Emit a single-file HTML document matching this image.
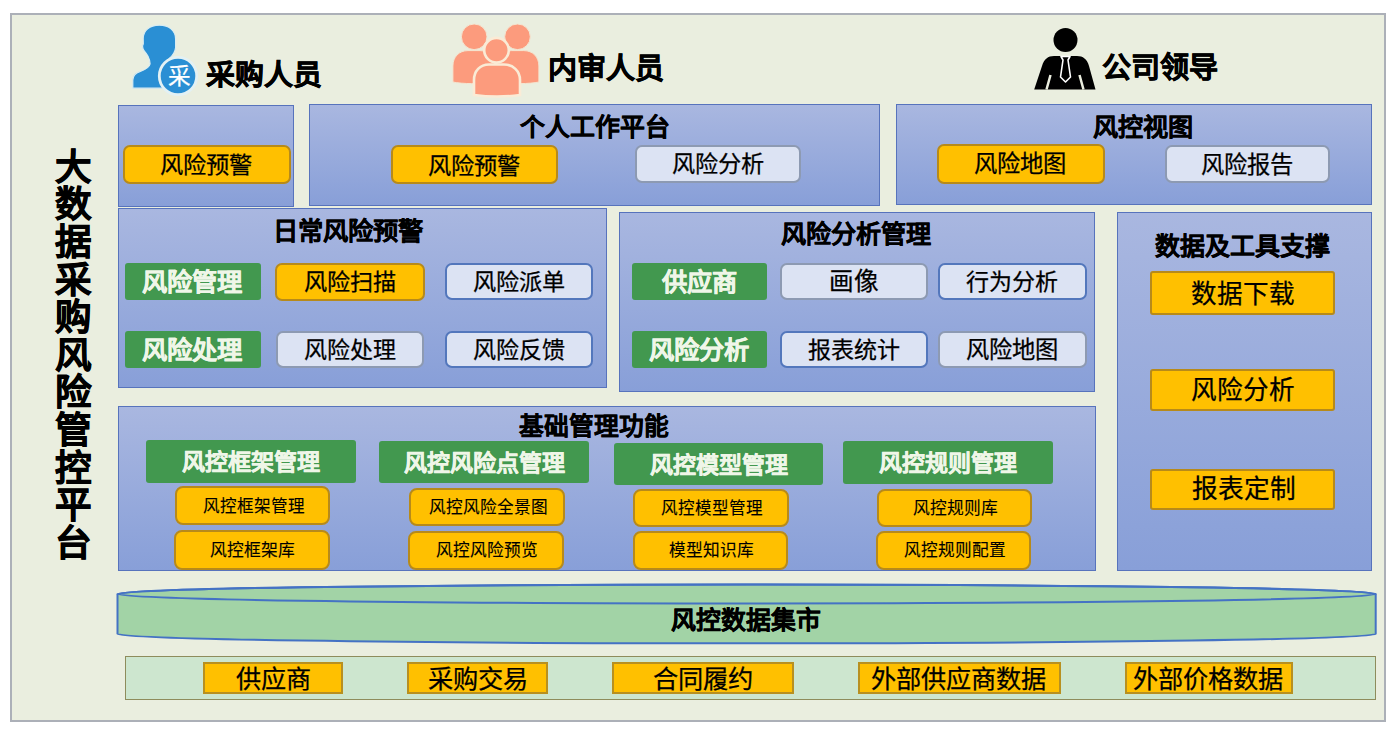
<!DOCTYPE html>
<html lang="zh-CN"><head><meta charset="utf-8"><style>
html,body{margin:0;padding:0;width:1397px;height:729px;overflow:hidden;background:#fff;font-family:'Liberation Sans', sans-serif;position:relative}
</style></head><body>
<div style="position:absolute;left:10px;top:13px;width:1376px;height:709px;box-sizing:border-box;background:#EAEEDF;border:2px solid #ACB0B8;"></div>
<svg width="1397" height="729" style="position:absolute;left:0;top:0">
<path d="M117.5 594 L117.5 634 A629 9.3 0 0 0 1375.7 634 L1375.7 594 A629 9.5 0 0 0 117.5 594 Z" fill="#A2D3A6" stroke="#4472C4" stroke-width="2"/>
<ellipse cx="746.6" cy="594" rx="629.1" ry="9.5" fill="none" stroke="#4472C4" stroke-width="2"/>
<!-- buyer icon -->
<path d="M132.8 88.2 L132.8 80 C133 75 135.5 73 139.8 71.6 C145 69.9 149.3 67.8 150.1 64 L149.6 60.5 C148.8 57 147.4 54.8 145.8 52.8 C144.6 51.6 143.4 50.5 142.9 48.5 C142.3 46.5 142.5 45 143.3 44 L143.2 38.5 C143.4 30.5 149.5 25.2 159.3 25.2 C169.5 25.2 175.6 31 175.6 39 L175.6 47.5 C175.2 52 172.8 55.5 169 58.8 L169.5 64 C173 67 177 69 181 72 L181 88.2 Z" fill="#2A8FD4" stroke="#D9ECF2" stroke-width="1.2"/>
<circle cx="178" cy="76" r="18.7" fill="#2A8FD4" stroke="#E3F1F4" stroke-width="2.8"/>
<!-- group icon -->
<g fill="#FC9B7D" stroke="#F4E6D2" stroke-width="1">
<circle cx="474.2" cy="36.8" r="12.8"/>
<circle cx="517.5" cy="36.8" r="12.8"/>
<path d="M452.9 82 L452.9 66 C452.9 57 459 50.6 468 50.6 L480 50.6 C489 50.6 495 57 495 66 L495 83 C480 84 462 84 452.9 82 Z"/>
<path d="M538.9 82 L538.9 66 C538.9 57 532.8 50.6 523.8 50.6 L511.8 50.6 C502.8 50.6 496.8 57 496.8 66 L496.8 83 C511.8 84 529.8 84 538.9 82 Z"/>
</g>
<g fill="#FC9B7D" stroke="#FAEBD6" stroke-width="2.6">
<circle cx="496.5" cy="50.2" r="12.3"/>
<path d="M474 95 L474 80 C474 71 480 64.5 489 64.5 L504 64.5 C513 64.5 520 71 520 80 L520 95 C505 97 489 97 474 95 Z"/>
</g>
<!-- leader icon -->
<circle cx="1065.5" cy="40.1" r="12" fill="#000"/>
<path d="M1034.2 89.5 L1042 66 C1044 59 1048 56 1054 56 L1077 56 C1083 56 1087 59 1089 66 L1095.5 89.5 Z" fill="#000"/>
<path d="M1050.5 75 L1046.5 89.5 M1079.5 75 L1083.5 89.5" stroke="#EBEEDF" stroke-width="2.5"/>
<path d="M1061 56.5 L1070 56.5 L1068 60 L1070.5 77 L1065.5 82 L1060.5 77 L1063 60 Z" fill="#000" stroke="#fff" stroke-width="1.6" stroke-linejoin="round"/>
</svg>
<div style="position:absolute;left:118px;top:105px;width:176px;height:102px;box-sizing:border-box;background:linear-gradient(#A9B7E0,#889FD8);border:1px solid #5773BC;"></div>
<div style="position:absolute;left:123px;top:145px;width:168px;height:39px;box-sizing:border-box;background:#FFC000;border:2px solid #B78A1A;border-radius:7px;"></div>
<span style="position:absolute;left:160.47px;top:154.48px;font-size:23.27px;line-height:23.27px;color:#000;-webkit-text-stroke:0.25px #000;white-space:nowrap">风险预警</span>
<div style="position:absolute;left:309px;top:104px;width:571px;height:102px;box-sizing:border-box;background:linear-gradient(#A9B7E0,#889FD8);border:1px solid #5773BC;"></div>
<span style="position:absolute;left:519.80px;top:114.79px;font-size:24.91px;line-height:24.91px;font-weight:bold;color:#000;-webkit-text-stroke:0.35px #000;white-space:nowrap">个人工作平台</span>
<div style="position:absolute;left:391px;top:145px;width:167px;height:39px;box-sizing:border-box;background:#FFC000;border:2px solid #B78A1A;border-radius:7px;"></div>
<span style="position:absolute;left:427.87px;top:154.78px;font-size:23.27px;line-height:23.27px;color:#000;-webkit-text-stroke:0.25px #000;white-space:nowrap">风险预警</span>
<div style="position:absolute;left:635px;top:145px;width:166px;height:38px;box-sizing:border-box;background:#DCE3F3;border:2px solid #8D9AB2;border-radius:7px;"></div>
<span style="position:absolute;left:671.77px;top:152.61px;font-size:23.16px;line-height:23.16px;color:#000;-webkit-text-stroke:0.25px #000;white-space:nowrap">风险分析</span>
<div style="position:absolute;left:896px;top:104px;width:476px;height:101px;box-sizing:border-box;background:linear-gradient(#A9B7E0,#889FD8);border:1px solid #5773BC;"></div>
<span style="position:absolute;left:1093.25px;top:115.26px;font-size:25.14px;line-height:25.14px;font-weight:bold;color:#000;-webkit-text-stroke:0.35px #000;white-space:nowrap">风控视图</span>
<div style="position:absolute;left:937px;top:144px;width:168px;height:40px;box-sizing:border-box;background:#FFC000;border:2px solid #B78A1A;border-radius:7px;"></div>
<span style="position:absolute;left:973.62px;top:153.35px;font-size:23.32px;line-height:23.32px;color:#000;-webkit-text-stroke:0.25px #000;white-space:nowrap">风险地图</span>
<div style="position:absolute;left:1165px;top:145px;width:165px;height:38px;box-sizing:border-box;background:#DCE3F3;border:2px solid #8D9AB2;border-radius:7px;"></div>
<span style="position:absolute;left:1200.87px;top:153.53px;font-size:23.33px;line-height:23.33px;color:#000;-webkit-text-stroke:0.25px #000;white-space:nowrap">风险报告</span>
<div style="position:absolute;left:118px;top:208px;width:489px;height:180px;box-sizing:border-box;background:linear-gradient(#A9B7E0,#889FD8);border:1px solid #5773BC;"></div>
<span style="position:absolute;left:272.96px;top:219.13px;font-size:25.26px;line-height:25.26px;font-weight:bold;color:#000;-webkit-text-stroke:0.35px #000;white-space:nowrap">日常风险预警</span>
<div style="position:absolute;left:125px;top:263px;width:136px;height:37px;box-sizing:border-box;background:#42984F;border-radius:3px;"></div>
<span style="position:absolute;left:142.49px;top:270.43px;font-size:25.25px;line-height:25.25px;font-weight:bold;color:#EFF6E8;-webkit-text-stroke:0.35px #EFF6E8;white-space:nowrap">风险管理</span>
<div style="position:absolute;left:275px;top:263px;width:150px;height:38px;box-sizing:border-box;background:#FFC000;border:2px solid #B78A1A;border-radius:7px;"></div>
<span style="position:absolute;left:303.82px;top:271.24px;font-size:23.15px;line-height:23.15px;color:#000;-webkit-text-stroke:0.25px #000;white-space:nowrap">风险扫描</span>
<div style="position:absolute;left:445px;top:263px;width:148px;height:37px;box-sizing:border-box;background:#DCE3F3;border:2px solid #5377BC;border-radius:7px;"></div>
<span style="position:absolute;left:472.82px;top:271.14px;font-size:23.15px;line-height:23.15px;color:#000;-webkit-text-stroke:0.25px #000;white-space:nowrap">风险派单</span>
<div style="position:absolute;left:125px;top:331px;width:136px;height:37px;box-sizing:border-box;background:#42984F;border-radius:3px;"></div>
<span style="position:absolute;left:142.49px;top:338.13px;font-size:25.25px;line-height:25.25px;font-weight:bold;color:#EFF6E8;-webkit-text-stroke:0.35px #EFF6E8;white-space:nowrap">风险处理</span>
<div style="position:absolute;left:276px;top:331px;width:148px;height:37px;box-sizing:border-box;background:#DCE3F3;border:2px solid #8D9AB2;border-radius:7px;"></div>
<span style="position:absolute;left:303.83px;top:339.29px;font-size:23.03px;line-height:23.03px;color:#000;-webkit-text-stroke:0.25px #000;white-space:nowrap">风险处理</span>
<div style="position:absolute;left:445px;top:331px;width:148px;height:37px;box-sizing:border-box;background:#DCE3F3;border:2px solid #5377BC;border-radius:7px;"></div>
<span style="position:absolute;left:472.83px;top:339.15px;font-size:23.09px;line-height:23.09px;color:#000;-webkit-text-stroke:0.25px #000;white-space:nowrap">风险反馈</span>
<div style="position:absolute;left:619px;top:212px;width:476px;height:180px;box-sizing:border-box;background:linear-gradient(#A9B7E0,#889FD8);border:1px solid #5773BC;"></div>
<span style="position:absolute;left:780.95px;top:221.81px;font-size:25.08px;line-height:25.08px;font-weight:bold;color:#000;-webkit-text-stroke:0.35px #000;white-space:nowrap">风险分析管理</span>
<div style="position:absolute;left:632px;top:263px;width:135px;height:37px;box-sizing:border-box;background:#42984F;border-radius:3px;"></div>
<span style="position:absolute;left:662.00px;top:270.42px;font-size:25.27px;line-height:25.27px;font-weight:bold;color:#EFF6E8;-webkit-text-stroke:0.35px #EFF6E8;white-space:nowrap">供应商</span>
<div style="position:absolute;left:780px;top:263px;width:148px;height:37px;box-sizing:border-box;background:#DCE3F3;border:2px solid #8D9AB2;border-radius:7px;"></div>
<span style="position:absolute;left:828.79px;top:269.94px;font-size:24.60px;line-height:24.60px;color:#000;-webkit-text-stroke:0.25px #000;white-space:nowrap">画像</span>
<div style="position:absolute;left:938px;top:263px;width:149px;height:37px;box-sizing:border-box;background:#DCE3F3;border:2px solid #5377BC;border-radius:7px;"></div>
<span style="position:absolute;left:966.06px;top:270.56px;font-size:23.03px;line-height:23.03px;color:#000;-webkit-text-stroke:0.25px #000;white-space:nowrap">行为分析</span>
<div style="position:absolute;left:632px;top:331px;width:135px;height:37px;box-sizing:border-box;background:#42984F;border-radius:3px;"></div>
<span style="position:absolute;left:648.99px;top:338.10px;font-size:25.32px;line-height:25.32px;font-weight:bold;color:#EFF6E8;-webkit-text-stroke:0.35px #EFF6E8;white-space:nowrap">风险分析</span>
<div style="position:absolute;left:780px;top:331px;width:148px;height:37px;box-sizing:border-box;background:#DCE3F3;border:2px solid #5377BC;border-radius:7px;"></div>
<span style="position:absolute;left:808.06px;top:339.18px;font-size:23.03px;line-height:23.03px;color:#000;-webkit-text-stroke:0.25px #000;white-space:nowrap">报表统计</span>
<div style="position:absolute;left:938px;top:331px;width:149px;height:37px;box-sizing:border-box;background:#DCE3F3;border:2px solid #8D9AB2;border-radius:7px;"></div>
<span style="position:absolute;left:965.82px;top:339.15px;font-size:23.32px;line-height:23.32px;color:#000;-webkit-text-stroke:0.25px #000;white-space:nowrap">风险地图</span>
<div style="position:absolute;left:1117px;top:212px;width:255px;height:359px;box-sizing:border-box;background:linear-gradient(#A9B7E0,#889FD8);border:1px solid #5773BC;"></div>
<span style="position:absolute;left:1155.05px;top:233.63px;font-size:24.99px;line-height:24.99px;font-weight:bold;color:#000;-webkit-text-stroke:0.35px #000;white-space:nowrap">数据及工具支撑</span>
<div style="position:absolute;left:1150px;top:271px;width:185px;height:44px;box-sizing:border-box;background:#FFC000;border:2px solid #B78A1A;border-radius:3px;"></div>
<span style="position:absolute;left:1191.33px;top:282.15px;font-size:25.59px;line-height:25.59px;color:#000;-webkit-text-stroke:0.25px #000;white-space:nowrap">数据下载</span>
<div style="position:absolute;left:1150px;top:369px;width:185px;height:42px;box-sizing:border-box;background:#FFC000;border:2px solid #B78A1A;border-radius:3px;"></div>
<span style="position:absolute;left:1191.33px;top:377.97px;font-size:25.59px;line-height:25.59px;color:#000;-webkit-text-stroke:0.25px #000;white-space:nowrap">风险分析</span>
<div style="position:absolute;left:1150px;top:469px;width:185px;height:41px;box-sizing:border-box;background:#FFC000;border:2px solid #B78A1A;border-radius:3px;"></div>
<span style="position:absolute;left:1191.58px;top:477.41px;font-size:25.72px;line-height:25.72px;color:#000;-webkit-text-stroke:0.25px #000;white-space:nowrap">报表定制</span>
<div style="position:absolute;left:118px;top:406px;width:978px;height:165px;box-sizing:border-box;background:linear-gradient(#A9B7E0,#889FD8);border:1px solid #5773BC;"></div>
<span style="position:absolute;left:518.50px;top:414.67px;font-size:24.74px;line-height:24.74px;font-weight:bold;color:#000;-webkit-text-stroke:0.35px #000;white-space:nowrap">基础管理功能</span>
<div style="position:absolute;left:146px;top:440px;width:210px;height:43px;box-sizing:border-box;background:#42984F;border-radius:3px;"></div>
<span style="position:absolute;left:181.94px;top:451.07px;font-size:23.02px;line-height:23.02px;font-weight:bold;color:#EFF6E8;-webkit-text-stroke:0.35px #EFF6E8;white-space:nowrap">风控框架管理</span>
<div style="position:absolute;left:175px;top:486px;width:155px;height:39px;box-sizing:border-box;background:#FFC000;border:2px solid #B78A1A;border-radius:8px;"></div>
<span style="position:absolute;left:202.69px;top:498.59px;font-size:16.58px;line-height:16.58px;color:#000;-webkit-text-stroke:0.12px #000;white-space:nowrap">风控框架管理</span>
<div style="position:absolute;left:174px;top:530px;width:156px;height:40px;box-sizing:border-box;background:#FFC000;border:2px solid #B78A1A;border-radius:8px;"></div>
<span style="position:absolute;left:210.17px;top:542.92px;font-size:16.77px;line-height:16.77px;color:#000;-webkit-text-stroke:0.12px #000;white-space:nowrap">风控框架库</span>
<div style="position:absolute;left:379px;top:441px;width:210px;height:42px;box-sizing:border-box;background:#42984F;border-radius:3px;"></div>
<span style="position:absolute;left:403.59px;top:451.70px;font-size:22.97px;line-height:22.97px;font-weight:bold;color:#EFF6E8;-webkit-text-stroke:0.35px #EFF6E8;white-space:nowrap">风控风险点管理</span>
<div style="position:absolute;left:409px;top:488px;width:156px;height:38px;box-sizing:border-box;background:#FFC000;border:2px solid #B78A1A;border-radius:8px;"></div>
<span style="position:absolute;left:429.00px;top:500.05px;font-size:16.67px;line-height:16.67px;color:#000;-webkit-text-stroke:0.12px #000;white-space:nowrap">风控风险全景图</span>
<div style="position:absolute;left:408px;top:531px;width:156px;height:39px;box-sizing:border-box;background:#FFC000;border:2px solid #B78A1A;border-radius:8px;"></div>
<span style="position:absolute;left:436.19px;top:543.47px;font-size:16.66px;line-height:16.66px;color:#000;-webkit-text-stroke:0.12px #000;white-space:nowrap">风控风险预览</span>
<div style="position:absolute;left:614px;top:443px;width:209px;height:42px;box-sizing:border-box;background:#42984F;border-radius:3px;"></div>
<span style="position:absolute;left:649.54px;top:453.58px;font-size:22.99px;line-height:22.99px;font-weight:bold;color:#EFF6E8;-webkit-text-stroke:0.35px #EFF6E8;white-space:nowrap">风控模型管理</span>
<div style="position:absolute;left:633px;top:489px;width:156px;height:38px;box-sizing:border-box;background:#FFC000;border:2px solid #B78A1A;border-radius:8px;"></div>
<span style="position:absolute;left:661.19px;top:501.09px;font-size:16.58px;line-height:16.58px;color:#000;-webkit-text-stroke:0.12px #000;white-space:nowrap">风控模型管理</span>
<div style="position:absolute;left:633px;top:531px;width:155px;height:39px;box-sizing:border-box;background:#FFC000;border:2px solid #B78A1A;border-radius:8px;"></div>
<span style="position:absolute;left:668.84px;top:543.44px;font-size:16.73px;line-height:16.73px;color:#000;-webkit-text-stroke:0.12px #000;white-space:nowrap">模型知识库</span>
<div style="position:absolute;left:843px;top:441px;width:210px;height:43px;box-sizing:border-box;background:#42984F;border-radius:3px;"></div>
<span style="position:absolute;left:879.04px;top:452.08px;font-size:22.99px;line-height:22.99px;font-weight:bold;color:#EFF6E8;-webkit-text-stroke:0.35px #EFF6E8;white-space:nowrap">风控规则管理</span>
<div style="position:absolute;left:877px;top:489px;width:155px;height:38px;box-sizing:border-box;background:#FFC000;border:2px solid #B78A1A;border-radius:8px;"></div>
<span style="position:absolute;left:912.67px;top:500.84px;font-size:16.77px;line-height:16.77px;color:#000;-webkit-text-stroke:0.12px #000;white-space:nowrap">风控规则库</span>
<div style="position:absolute;left:876px;top:531px;width:155px;height:39px;box-sizing:border-box;background:#FFC000;border:2px solid #B78A1A;border-radius:8px;"></div>
<span style="position:absolute;left:903.69px;top:543.47px;font-size:16.66px;line-height:16.66px;color:#000;-webkit-text-stroke:0.12px #000;white-space:nowrap">风控规则配置</span>
<div style="position:absolute;left:125px;top:656px;width:1251px;height:44px;box-sizing:border-box;background:#CDE6CF;border:1px solid #8E8C5C;"></div>
<div style="position:absolute;left:203px;top:662px;width:140px;height:32px;box-sizing:border-box;background:#FFC000;border:2px solid #B89020;"></div>
<span style="position:absolute;left:235.75px;top:667.17px;font-size:25.17px;line-height:25.17px;color:#000;-webkit-text-stroke:0.25px #000;white-space:nowrap">供应商</span>
<div style="position:absolute;left:407px;top:662px;width:141px;height:32px;box-sizing:border-box;background:#FFC000;border:2px solid #B89020;"></div>
<span style="position:absolute;left:427.84px;top:667.15px;font-size:25.21px;line-height:25.21px;color:#000;-webkit-text-stroke:0.25px #000;white-space:nowrap">采购交易</span>
<div style="position:absolute;left:612px;top:662px;width:182px;height:32px;box-sizing:border-box;background:#FFC000;border:2px solid #B89020;"></div>
<span style="position:absolute;left:652.99px;top:667.13px;font-size:25.26px;line-height:25.26px;color:#000;-webkit-text-stroke:0.25px #000;white-space:nowrap">合同履约</span>
<div style="position:absolute;left:858px;top:662px;width:203px;height:32px;box-sizing:border-box;background:#FFC000;border:2px solid #B89020;"></div>
<span style="position:absolute;left:871.29px;top:667.15px;font-size:25.20px;line-height:25.20px;color:#000;-webkit-text-stroke:0.25px #000;white-space:nowrap">外部供应商数据</span>
<div style="position:absolute;left:1125px;top:662px;width:168px;height:32px;box-sizing:border-box;background:#FFC000;border:2px solid #B89020;"></div>
<span style="position:absolute;left:1133.49px;top:667.17px;font-size:25.17px;line-height:25.17px;color:#000;-webkit-text-stroke:0.25px #000;white-space:nowrap">外部价格数据</span>
<span style="position:absolute;left:54.51px;top:149.81px;font-size:36.58px;line-height:36.58px;font-weight:bold;color:#000;-webkit-text-stroke:0.7px #000;white-space:nowrap">大</span>
<span style="position:absolute;left:54.51px;top:187.41px;font-size:36.58px;line-height:36.58px;font-weight:bold;color:#000;-webkit-text-stroke:0.7px #000;white-space:nowrap">数</span>
<span style="position:absolute;left:54.51px;top:225.01px;font-size:36.58px;line-height:36.58px;font-weight:bold;color:#000;-webkit-text-stroke:0.7px #000;white-space:nowrap">据</span>
<span style="position:absolute;left:54.51px;top:262.61px;font-size:36.58px;line-height:36.58px;font-weight:bold;color:#000;-webkit-text-stroke:0.7px #000;white-space:nowrap">采</span>
<span style="position:absolute;left:54.51px;top:300.21px;font-size:36.58px;line-height:36.58px;font-weight:bold;color:#000;-webkit-text-stroke:0.7px #000;white-space:nowrap">购</span>
<span style="position:absolute;left:54.51px;top:337.81px;font-size:36.58px;line-height:36.58px;font-weight:bold;color:#000;-webkit-text-stroke:0.7px #000;white-space:nowrap">风</span>
<span style="position:absolute;left:54.51px;top:375.41px;font-size:36.58px;line-height:36.58px;font-weight:bold;color:#000;-webkit-text-stroke:0.7px #000;white-space:nowrap">险</span>
<span style="position:absolute;left:54.51px;top:413.01px;font-size:36.58px;line-height:36.58px;font-weight:bold;color:#000;-webkit-text-stroke:0.7px #000;white-space:nowrap">管</span>
<span style="position:absolute;left:54.51px;top:450.61px;font-size:36.58px;line-height:36.58px;font-weight:bold;color:#000;-webkit-text-stroke:0.7px #000;white-space:nowrap">控</span>
<span style="position:absolute;left:54.51px;top:488.21px;font-size:36.58px;line-height:36.58px;font-weight:bold;color:#000;-webkit-text-stroke:0.7px #000;white-space:nowrap">平</span>
<span style="position:absolute;left:54.51px;top:525.81px;font-size:36.58px;line-height:36.58px;font-weight:bold;color:#000;-webkit-text-stroke:0.7px #000;white-space:nowrap">台</span>
<span style="position:absolute;left:167.90px;top:66.26px;font-size:22.61px;line-height:22.61px;color:#fff;-webkit-text-stroke:0.25px #fff;white-space:nowrap">采</span>
<span style="position:absolute;left:671.25px;top:608.10px;font-size:24.89px;line-height:24.89px;font-weight:bold;color:#000;-webkit-text-stroke:0.35px #000;white-space:nowrap">风控数据集市</span>
<span style="position:absolute;left:205.51px;top:61.03px;font-size:28.98px;line-height:28.98px;font-weight:bold;color:#000;-webkit-text-stroke:0.6px #000;white-space:nowrap">采购人员</span>
<span style="position:absolute;left:547.62px;top:54.54px;font-size:29.07px;line-height:29.07px;font-weight:bold;color:#000;-webkit-text-stroke:0.6px #000;white-space:nowrap">内审人员</span>
<span style="position:absolute;left:1101.83px;top:54.00px;font-size:29.06px;line-height:29.06px;font-weight:bold;color:#000;-webkit-text-stroke:0.6px #000;white-space:nowrap">公司领导</span>
</body></html>
